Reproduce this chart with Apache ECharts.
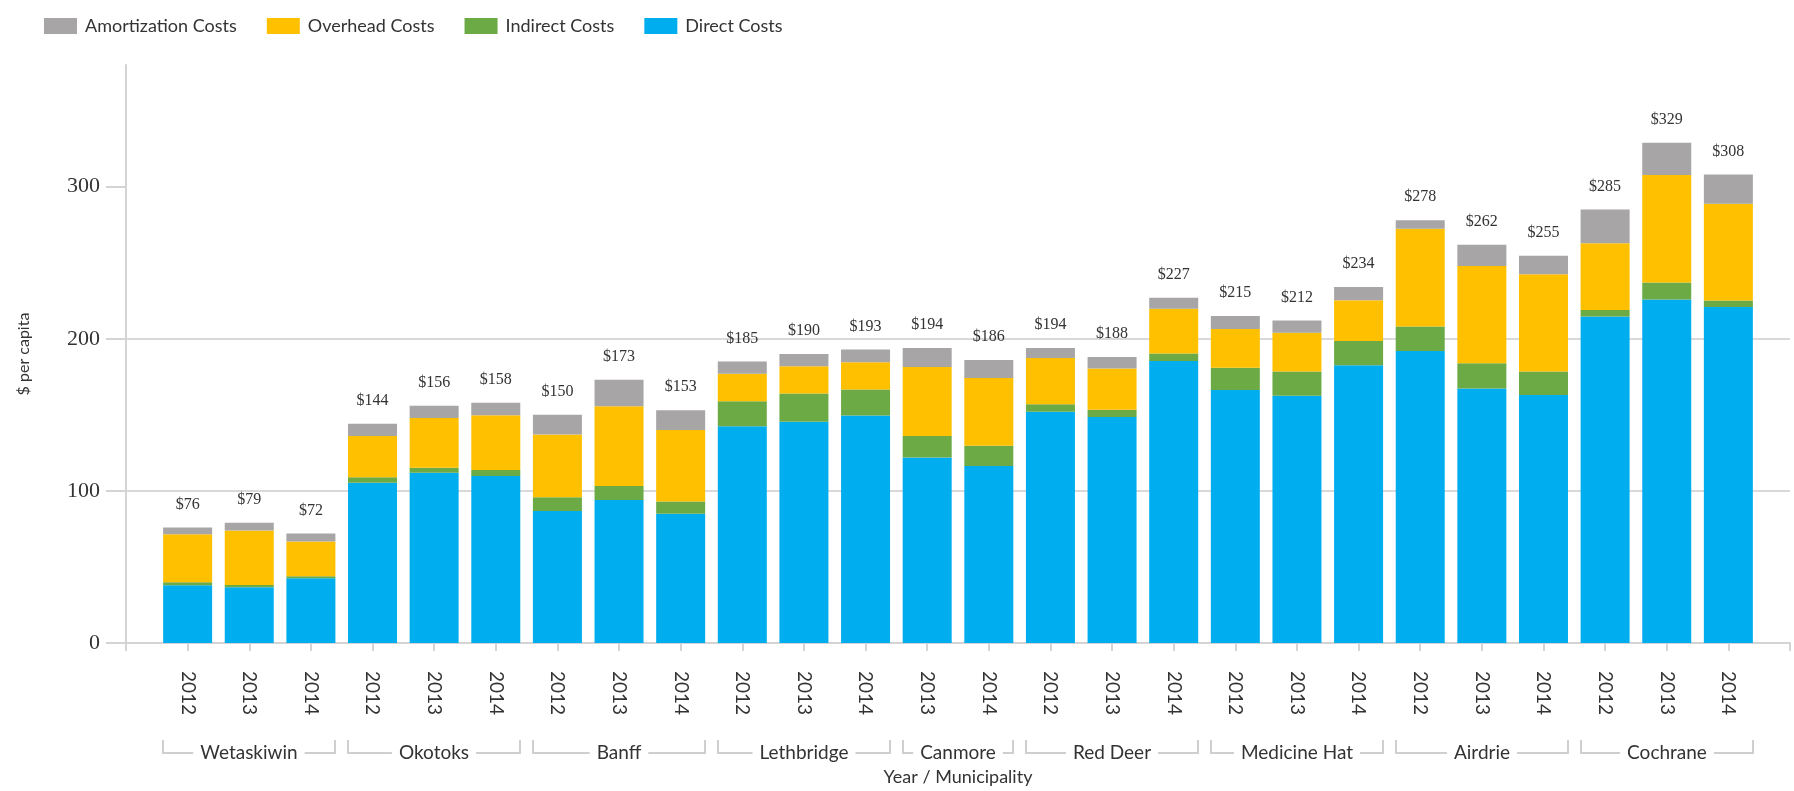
<!DOCTYPE html>
<html>
<head>
<meta charset="utf-8">
<script src="https://cdn.jsdelivr.net/npm/echarts@6/dist/echarts.min.js"></script>
<style>
  html, body { margin: 0; padding: 0; background: #fff; }
  #chart { width: 1794px; height: 791px; }
</style>
</head>
<body>
<div id="chart"></div>
<script>
// municipalities and how many years each one has
const municipalities = ["Wetaskiwin", "Okotoks", "Banff", "Lethbridge", "Canmore", "Red Deer", "Medicine Hat", "Airdrie", "Cochrane"];
const groupSizes = [3, 3, 3, 3, 2, 3, 3, 3, 3];
const years = [
  "2012", "2013", "2014", "2012", "2013", "2014", "2012", "2013", "2014",
  "2012", "2013", "2014", "2013", "2014", "2012", "2013", "2014",
  "2012", "2013", "2014", "2012", "2013", "2014", "2012", "2013", "2014"
];

// $ per capita
const directCosts = [38, 36.7, 42.6, 105.4, 112, 109.8, 86.7, 94, 85, 142.5, 145.5, 149.5, 122, 116.3, 152, 148.5, 185.4, 166.3, 162.6, 182.6, 192, 167.4, 163, 214.6, 225.9, 220.9];
const indirectCosts = [2, 1.5, 1.3, 3.5, 3.2, 4, 9.2, 9.2, 8, 16.5, 18.5, 17.2, 14.1, 13.3, 5, 4.8, 5, 14.6, 15.9, 15.9, 16, 16.5, 15.5, 4.3, 11.1, 4.3];
const overheadCosts = [31.5, 35.7, 22.8, 27.2, 32.8, 36, 41.1, 52.4, 47, 18, 18, 17.8, 45.4, 44.7, 30.3, 27.1, 29.4, 25.6, 25.4, 26.9, 64.4, 63.9, 63.9, 43.9, 70.6, 63.5];
const amortizationCosts = [4.5, 5.1, 5.3, 8, 8, 8.2, 13, 17.4, 13, 8, 8, 8.5, 12.5, 11.7, 6.7, 7.6, 7.2, 8.5, 8.1, 8.6, 5.6, 14.1, 12.2, 22.2, 21.3, 19.3];
const totals = [76, 79, 72, 144, 156, 158, 150, 173, 153, 185, 190, 193, 194, 186, 194, 188, 227, 215, 212, 234, 278, 262, 255, 285, 329, 308];

const yTicks = [0, 100, 200, 300];

// one category per bar, plus an empty slot at each end of the axis
const categories = [""];
let k = 0;
municipalities.forEach((m, i) => {
  for (let j = 0; j < groupSizes[i]; j++) {
    categories.push(m + "|" + years[k]);
    k++;
  }
});
categories.push(" ");

const pad = (arr) => [null].concat(arr, [null]);

const barWidth = 49;
const sansFont = "Lato, 'Open Sans', sans-serif";
const serifFont = "'Liberation Serif', 'DejaVu Serif', serif";

const chart = echarts.init(document.getElementById("chart"));

const option = {
  animation: false,
  color: ["#00AEEF", "#6CAA45", "#FFC000", "#A7A5A6"],
  legend: {
    left: 39,
    top: 12,
    itemWidth: 33,
    itemHeight: 16,
    itemGap: 30,
    icon: "rect",
    data: ["Amortization Costs", "Overhead Costs", "Indirect Costs", "Direct Costs"],
    textStyle: {
      fontFamily: sansFont,
      fontSize: 18,
      color: "#333",
      padding: [0, 0, 0, 3],
    },
  },
  grid: {
    left: 126,
    right: 4,
    top: 65,
    bottom: 142,
  },
  xAxis: {
    type: "category",
    boundaryGap: false,
    data: categories,
    name: "Year / Municipality",
    nameLocation: "middle",
    nameGap: 125,
    nameTextStyle: {
      fontFamily: sansFont,
      fontSize: 18,
      color: "#333",
    },
    axisLine: {
      lineStyle: { color: "#d4d4d4", width: 2 },
    },
    axisTick: {
      length: 8,
      lineStyle: { color: "#d4d4d4", width: 2 },
    },
    axisLabel: {
      interval: 0,
      rotate: -90,
      margin: 28,
      fontFamily: sansFont,
      fontSize: 19,
      color: "#333",
      formatter: (v) => (v.indexOf("|") > 0 ? v.split("|")[1] : ""),
    },
  },
  yAxis: {
    type: "value",
    min: 0,
    max: 380,
    interval: 100,
    name: "$ per capita",
    nameLocation: "middle",
    nameGap: 94,
    nameTextStyle: {
      fontFamily: sansFont,
      fontSize: 16,
      color: "#333",
    },
    axisLine: {
      show: true,
      lineStyle: { color: "#d4d4d4", width: 2 },
    },
    axisTick: {
      show: true,
      length: 20,
      customValues: yTicks,
      lineStyle: { color: "#d4d4d4", width: 2 },
    },
    axisLabel: {
      margin: 26,
      customValues: yTicks,
      fontFamily: serifFont,
      fontSize: 22,
      color: "#333",
    },
    splitLine: {
      showMaxLine: false,
      lineStyle: { color: "#d9d9d9", width: 2 },
    },
  },
  series: [
    {
      name: "Direct Costs",
      type: "bar",
      stack: "cost",
      barWidth: barWidth,
      data: pad(directCosts),
    },
    {
      name: "Indirect Costs",
      type: "bar",
      stack: "cost",
      barWidth: barWidth,
      data: pad(indirectCosts),
    },
    {
      name: "Overhead Costs",
      type: "bar",
      stack: "cost",
      barWidth: barWidth,
      data: pad(overheadCosts),
    },
    {
      name: "Amortization Costs",
      type: "bar",
      stack: "cost",
      barWidth: barWidth,
      data: pad(amortizationCosts),
      label: {
        show: true,
        position: "top",
        distance: 15,
        fontFamily: serifFont,
        fontSize: 16,
        color: "#333",
        formatter: (p) => "$" + totals[p.dataIndex - 1],
      },
    },
  ],
};

chart.setOption(option);

// brackets under the year labels, one per municipality
function drawBrackets() {
  const yLine = 753;
  const yTop = 740;
  const half = barWidth / 2;
  const elements = [];
  let start = 1;
  municipalities.forEach((name, i) => {
    const end = start + groupSizes[i] - 1;
    const x0 = Math.round(chart.convertToPixel({ xAxisIndex: 0 }, start) - half);
    const x1 = Math.round(chart.convertToPixel({ xAxisIndex: 0 }, end) + half);
    elements.push({
      type: "polyline",
      silent: true,
      z: 1,
      shape: { points: [[x0, yTop], [x0, yLine], [x1, yLine], [x1, yTop]] },
      style: { stroke: "#cfcfcf", lineWidth: 2, fill: null },
    });
    elements.push({
      type: "text",
      silent: true,
      z: 2,
      x: (x0 + x1) / 2,
      y: yLine,
      style: {
        text: name,
        fontFamily: sansFont,
        fontSize: 19,
        fill: "#333",
        align: "center",
        verticalAlign: "middle",
        backgroundColor: "#fff",
        padding: [0, 7],
      },
    });
    start = end + 1;
  });
  chart.setOption({ graphic: elements });
}

drawBrackets();
</script>
</body>
</html>
